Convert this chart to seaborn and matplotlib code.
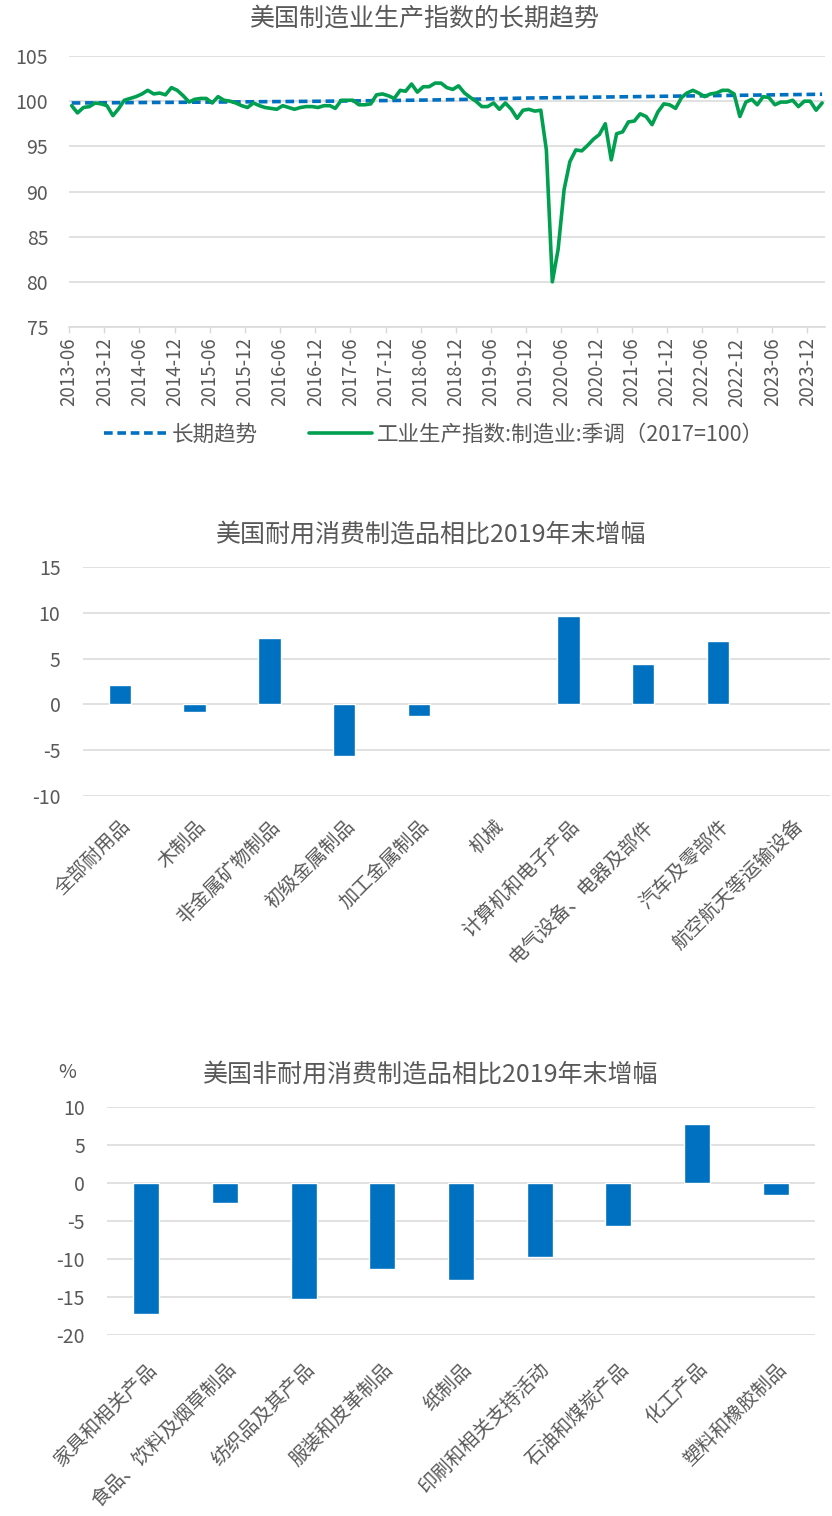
import pandas as pd
import numpy as np
import seaborn as sns
import matplotlib.dates as mdates
from matplotlib import pyplot as plt
from matplotlib.lines import Line2D

sns.set_style('white')
plt.rcParams['font.family'] = ['Noto Sans CJK SC', 'DejaVu Sans']
plt.rcParams['axes.unicode_minus'] = False

# ---- chart 1: manufacturing production index, monthly from 2013-06 ----
ip_start = '2013-06-01'
ip_values = [99.5, 98.7, 99.3, 99.4, 99.8, 99.7, 99.5, 98.4, 99.2, 100.1,
             100.3, 100.5, 100.8, 101.2, 100.8, 100.9, 100.7, 101.5, 101.2, 100.6,
             99.9, 100.2, 100.3, 100.3, 99.8, 100.5, 100.1, 100.0, 99.8, 99.5,
             99.3, 99.8, 99.5, 99.3, 99.2, 99.1, 99.5, 99.3, 99.1, 99.3,
             99.4, 99.4, 99.3, 99.5, 99.5, 99.2, 100.1, 100.1, 100.1, 99.6,
             99.6, 99.7, 100.7, 100.8, 100.6, 100.3, 101.2, 101.1, 101.9, 101.0,
             101.6, 101.6, 102.0, 102.0, 101.5, 101.3, 101.7, 100.9, 100.4, 100.0,
             99.4, 99.4, 99.8, 99.1, 99.8, 99.1, 98.1, 99.0, 99.1, 98.9,
             99.0, 94.6, 80.0, 83.6, 90.2, 93.3, 94.6, 94.5, 95.1, 95.8,
             96.3, 97.5, 93.5, 96.4, 96.6, 97.7, 97.8, 98.6, 98.3, 97.4,
             98.8, 99.7, 99.6, 99.2, 100.4, 100.9, 101.2, 100.9, 100.5, 100.8,
             100.9, 101.2, 101.2, 100.8, 98.3, 99.9, 100.2, 99.6, 100.5, 100.4,
             99.6, 99.9, 99.9, 100.1, 99.4, 100.0, 100.0, 99.0, 99.8]
# long-term trend read every six months (plus last month)
trend_months = ['2013-06', '2013-12', '2014-06', '2014-12', '2015-06', '2015-12',
                '2016-06', '2016-12', '2017-06', '2017-12', '2018-06', '2018-12',
                '2019-06', '2019-12', '2020-06', '2020-12', '2021-06', '2021-12',
                '2022-06', '2022-12', '2023-06', '2023-12', '2024-02']
trend_values = [99.80, 99.82, 99.85, 99.87, 99.90, 99.93, 99.96, 99.99, 100.03,
                100.07, 100.12, 100.18, 100.27, 100.35, 100.40, 100.45, 100.50,
                100.55, 100.60, 100.65, 100.70, 100.75, 100.77]

# ---- chart 2: durable goods ----
dur_cats = ['全部耐用品', '木制品', '非金属矿物制品', '初级金属制品', '加工金属制品',
            '机械', '计算机和电子产品', '电气设备、电器及部件', '汽车及零部件',
            '航空航天等运输设备']
dur_vals = [2.1, -0.85, 7.25, -5.6, -1.3, np.nan, 9.6, 4.45, 6.9, np.nan]

# ---- chart 3: nondurable goods ----
nondur_cats = ['家具和相关产品', '食品、饮料及烟草制品', '纺织品及其产品', '服装和皮革制品',
               '纸制品', '印刷和相关支持活动', '石油和煤炭产品', '化工产品', '塑料和橡胶制品']
nondur_vals = [-17.3, -2.6, -15.2, -11.3, -12.7, -9.75, -5.7, 7.75, -1.6]

TXT = '#595959'
GRID = '#d9d9d9'
BLUE = '#0070C0'
GREEN = '#00A050'
W, H = 832, 1516

fig = plt.figure(figsize=(W / 100, H / 100), dpi=100)


def box(l, r, t, b):
    return [l / W, 1 - b / H, (r - l) / W, (b - t) / H]


# ---------------- chart 1 ----------------
ax1 = fig.add_axes(box(69, 825, 56, 327))
# Excel date axis: points sit in the middle of each month
dates = pd.date_range(ip_start, periods=len(ip_values), freq='MS') + pd.Timedelta(days=14)
tdates = pd.to_datetime(trend_months) + pd.Timedelta(days=14)
sns.lineplot(x=tdates, y=trend_values, ax=ax1, color=BLUE, lw=2.6)
ax1.lines[-1].set_dashes((2.4, 1.3))
sns.lineplot(x=dates, y=ip_values, ax=ax1, color=GREEN, lw=2.6)
ax1.set_ylim(75, 105)
ax1.set_yticks(range(75, 106, 5))
ax1.set_xlim(pd.Timestamp(ip_start), pd.Timestamp('2024-03-01'))
ax1.xaxis.set_major_locator(mdates.MonthLocator(bymonth=(6, 12), bymonthday=1))
ax1.xaxis.set_major_formatter(mdates.DateFormatter('%Y-%m'))
ax1.grid(axis='y', color=GRID, lw=1.1)
ax1.set_axisbelow(True)
for s in ['top', 'right', 'left']:
    ax1.spines[s].set_visible(False)
ax1.spines['bottom'].set_color(GRID)
ax1.spines['bottom'].set_linewidth(1.1)
ax1.tick_params(axis='x', labelrotation=90, colors=TXT, labelsize=13.5,
                length=4.5, width=1, color=GRID, pad=3, direction='out', bottom=True)
ax1.tick_params(axis='y', colors=TXT, labelsize=14, length=0, pad=15)
ax1.set_xlabel('')
ax1.set_ylabel('')
fig.text(425 / W, 1 - 19 / H, '美国制造业生产指数的长期趋势', ha='center', va='center',
         fontsize=18, color=TXT)
handles = [Line2D([], [], color=BLUE, lw=2.6, dashes=(2.4, 1.3)),
           Line2D([], [], color=GREEN, lw=2.6)]
fig.legend(handles, ['长期趋势', '工业生产指数:制造业:季调（2017=100）'],
           loc='center', bbox_to_anchor=(434 / W, 1 - 435 / H), ncol=2, frameon=False,
           fontsize=15.5, labelcolor=TXT, handlelength=2.9, handletextpad=0.25,
           columnspacing=2.4)

# ---------------- chart 2 ----------------
ax2 = fig.add_axes(box(82.6, 830, 567, 796))
sns.barplot(x=dur_cats, y=dur_vals, order=dur_cats, ax=ax2, color=BLUE,
            width=0.3, saturation=1, errorbar=None)
ax2.set_ylim(-10, 15)
ax2.set_yticks(range(-10, 16, 5))
fig.text(431 / W, 1 - 535 / H, '美国耐用消费制造品相比2019年末增幅', ha='center',
         va='center', fontsize=18, color=TXT)

# ---------------- chart 3 ----------------
ax3 = fig.add_axes(box(107, 815, 1107, 1335))
sns.barplot(x=nondur_cats, y=nondur_vals, order=nondur_cats, ax=ax3, color=BLUE,
            width=0.33, saturation=1, errorbar=None)
ax3.set_ylim(-20, 10)
ax3.set_yticks(range(-20, 11, 5))
fig.text(431 / W, 1 - 1075 / H, '美国非耐用消费制造品相比2019年末增幅', ha='center',
         va='center', fontsize=18, color=TXT)
fig.text(67 / W, 1 - 1073 / H, '%', ha='center', va='center', fontsize=14, color=TXT)

for ax, pad in [(ax2, 14), (ax3, 17)]:
    ax.grid(axis='y', color=GRID, lw=1.1)
    ax.set_axisbelow(True)
    for s in ax.spines.values():
        s.set_visible(False)
    ax.tick_params(axis='y', colors=TXT, labelsize=14, length=0, pad=16)
    ax.tick_params(axis='x', colors=TXT, labelsize=14, length=0, pad=pad)
    plt.setp(ax.get_xticklabels(), rotation=45, ha='right', va='top',
             rotation_mode='anchor')
    ax.set_xlabel('')
    ax.set_ylabel('')

fig.savefig('out.png', dpi=100)
